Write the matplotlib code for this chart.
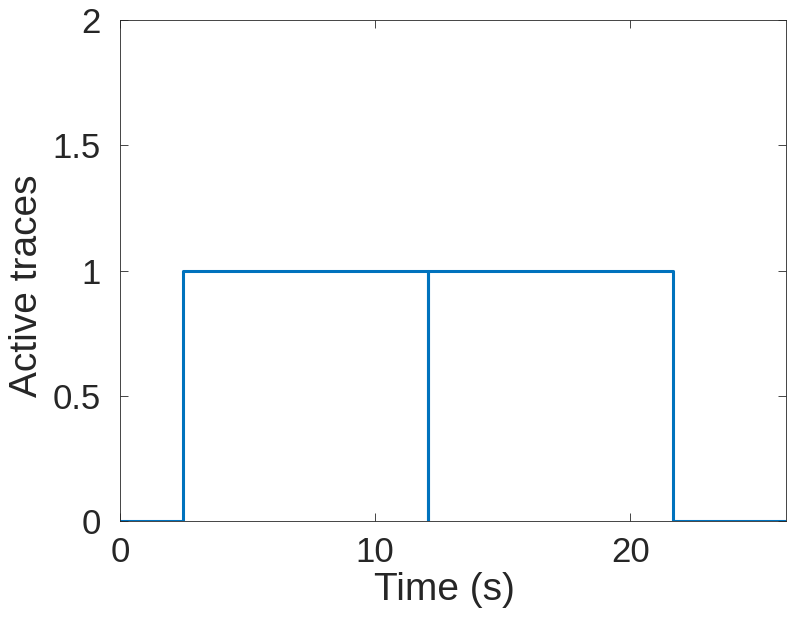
import matplotlib.pyplot as plt

# step data: time (s) and number of active traces
time = [0, 2.47, 2.47, 12.08, 12.08, 12.08, 21.69, 21.69, 26.1]
active = [0, 0, 1, 1, 0, 1, 1, 0, 0]

plt.rcParams['font.family'] = ['Liberation Sans', 'DejaVu Sans']

fig = plt.figure(figsize=(7.89, 6.25), dpi=100)
ax = fig.add_axes([0.1521, 0.1664, 0.8441, 0.8016])
ax.plot(time, active, color='#0072BD', linewidth=2.2)

ax.set_xlim(0, 26.1)
ax.set_ylim(0, 2)
ax.set_xticks([0, 10, 20])
ax.set_yticks([0, 0.5, 1, 1.5, 2])
ax.set_yticklabels(['0', '0.5', '1', '1.5', '2'])
ax.tick_params(direction='in', labelsize=25, colors='#262626', length=6, width=0.6,
               top=True, right=True)
ax.tick_params(axis='x', pad=11)
ax.tick_params(axis='y', pad=14)
for s in ax.spines.values():
    s.set_color('#262626')
    s.set_linewidth(0.6)
ax.set_xlabel('Time (s)', fontsize=28, color='#262626')
ax.set_ylabel('Active traces', fontsize=28, color='#262626')
ax.xaxis.set_label_coords(0.487, -0.102)
ax.yaxis.set_label_coords(-0.112, 0.47)

fig.savefig('out.png', dpi=100)
